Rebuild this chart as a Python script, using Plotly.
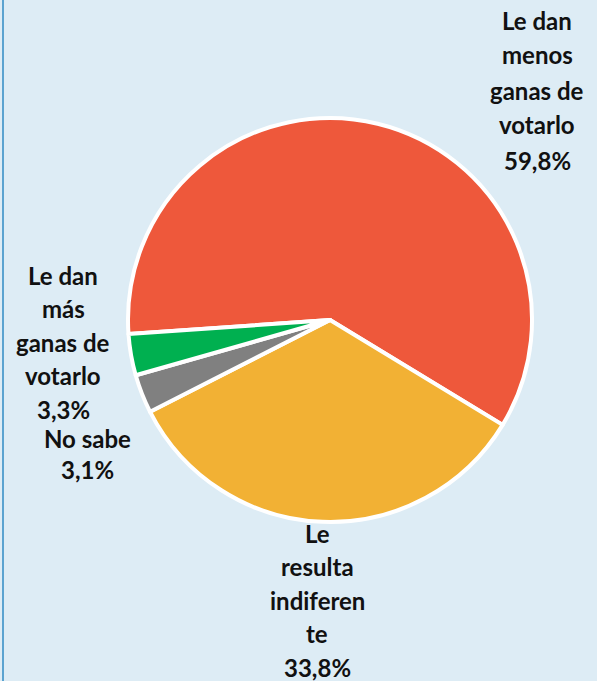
import plotly.graph_objects as go

categories = ["Le dan menos ganas de votarlo", "Le resulta indiferente", "No sabe", "Le dan más ganas de votarlo"]
values = [59.8, 33.8, 3.1, 3.3]
value_labels = ["59,8%", "33,8%", "3,1%", "3,3%"]
# wrapped display text, as in the original
display_lines = [
    ["Le dan", "menos", "ganas de", "votarlo"],
    ["Le", "resulta", "indiferen", "te"],
    ["No sabe"],
    ["Le dan", "más", "ganas de", "votarlo"],
]
colors = ["#EE583B", "#F2B134", "#808080", "#00B050"]

W, H = 597, 681
cx, cy, r = 330, 320, 202

fig = go.Figure(go.Pie(
    labels=categories,
    values=values,
    sort=False,
    direction="clockwise",
    rotation=266,
    marker=dict(colors=colors, line=dict(color="white", width=4)),
    textinfo="none",
    hoverinfo="label+percent",
    showlegend=False,
    domain=dict(x=[(cx - r) / W, (cx + r) / W], y=[(H - cy - r) / H, (H - cy + r) / H]),
))

# label anchor (x center px, first line y px, line spacing px)
label_pos = [(537, 20, 35), (317, 533, 33.5), (87, 438, 31), (63, 275, 33.5)]

annotations = []
for lines, val, (lx, ly, sp) in zip(display_lines, value_labels, label_pos):
    for i, t in enumerate(lines + [val]):
        annotations.append(dict(
            text=t, x=lx / W, y=1 - (ly + i * sp) / H, xref="paper", yref="paper",
            xanchor="center", yanchor="middle", showarrow=False,
            font=dict(family="Lato, Open Sans, sans-serif", size=24, color="#111111", weight="bold"),
        ))

fig.update_layout(
    width=W, height=H,
    margin=dict(l=0, r=0, t=0, b=0),
    paper_bgcolor="#DDECF5",
    plot_bgcolor="#DDECF5",
    annotations=annotations,
    shapes=[dict(type="line", xref="paper", yref="paper", x0=3 / W, x1=3 / W, y0=0, y1=1,
                 line=dict(color="#5BA3D0", width=2))],
)

fig.write_html("out.html", config={"displayModeBar": False},
               post_script="document.body.style.margin='0';document.body.style.overflow='hidden';")
